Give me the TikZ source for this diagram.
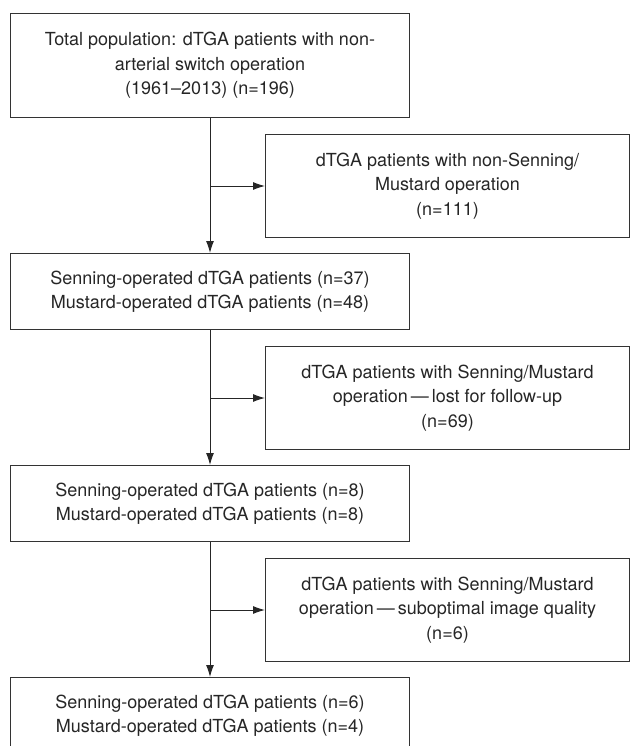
\documentclass[tikz,border=0pt]{standalone}
\usepackage{fontspec}
\setmainfont{TeX Gyre Heros}
\usetikzlibrary{arrows.meta,positioning}
\tikzset{%
  >={Latex[width=8pt,length=12pt]},
  % Specifications for style of nodes:
            base/.style = {rectangle, draw=black!80, line width=1pt,
                           align=center, inner sep=0pt, text=black!85,
                           font=\fontsize{18}{24.5}\selectfont},
         mainbox/.style = {base, minimum width=399pt, minimum height=76pt},
         sidebox/.style = {base, minimum width=364pt, minimum height=103pt},
            flow/.style = {->, draw=black!85, line width=1pt},
}

\begin{document}
\begin{tikzpicture}[x=1pt, y=-1pt]
  \useasboundingbox (0,0) rectangle (630,746);
  % Specification of nodes (position, etc.)

  \node (total)   [mainbox, minimum height=104pt, anchor=north west] at (10,13)
                  {Total population: dTGA patients with non-\\arterial switch operation\\(1961–2013) (n=196)};
  \node (nonsm)   [sidebox, below=16pt of total.south, anchor=north west, xshift=55pt]
                  {dTGA patients with non-Senning/\\Mustard operation\\(n=111)};
  \node (operated)  [mainbox, below=135pt of total]
                  {Senning-operated dTGA patients (n=37)\\Mustard-operated dTGA patients (n=48)};
  \node (lost)    [sidebox, below=16pt of operated.south, anchor=north west, xshift=55pt]
                  {dTGA patients with Senning/Mustard\\operation\,—\,lost for follow-up\\(n=69)};
  \node (followed)  [mainbox, below=135pt of operated]
                  {Senning-operated dTGA patients (n=8)\\Mustard-operated dTGA patients (n=8)};
  \node (quality) [sidebox, below=16pt of followed.south, anchor=north west, xshift=55pt]
                  {dTGA patients with Senning/Mustard\\operation\,—\,suboptimal image quality\\(n=6)};
  \node (analysed)  [mainbox, below=135pt of followed]
                  {Senning-operated dTGA patients (n=6)\\Mustard-operated dTGA patients (n=4)};

 \draw[flow]  (total) -- (operated);
 \draw[flow]  (total.south |- nonsm.west) -- (nonsm);

 \draw[flow]  (operated) -- (followed);
 \draw[flow]  (operated.south |- lost.west) -- (lost);

 \draw[flow]  (followed) -- (analysed);
 \draw[flow]  (followed.south |- quality.west) -- (quality);

\end{tikzpicture}
\end{document}
